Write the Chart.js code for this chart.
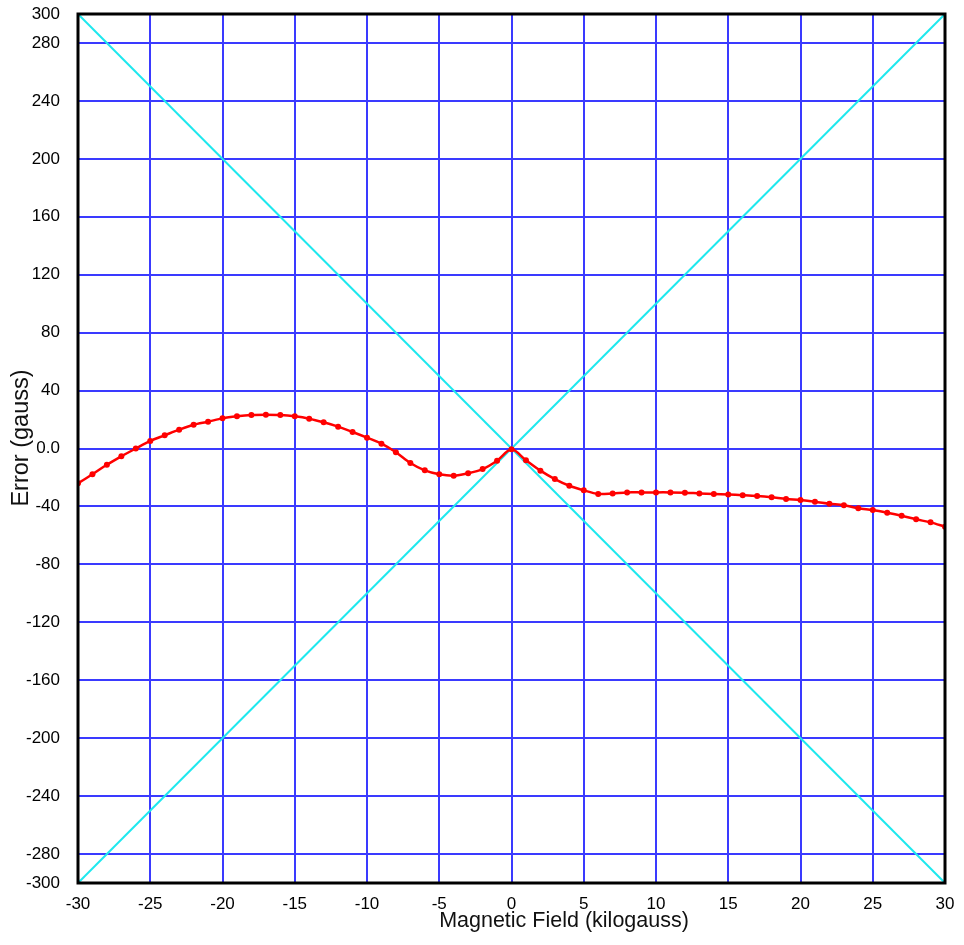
<!DOCTYPE html>
<html>
<head>
<meta charset="utf-8">
<script src="https://cdn.jsdelivr.net/npm/chart.js@4/dist/chart.umd.min.js"></script>
<style>
  html, body { margin: 0; padding: 0; background: #fff; }
  #wrap { width: 964px; height: 945px; position: relative; }
</style>
</head>
<body>
<div id="wrap"><canvas id="errChart" width="964" height="945"></canvas></div>
<script>
const fieldKG = [-30,-29,-28,-27,-26,-25,-24,-23,-22,-21,-20,-19,-18,-17,-16,-15,-14,-13,-12,-11,-10,
  -9,-8,-7,-6,-5,-4,-3,-2,-1,0,1,2,3,4,5,6,7,8,9,10,
  11,12,13,14,15,16,17,18,19,20,21,22,23,24,25,26,27,28,29,30];
const errorGauss = [-24,-17.8,-11.2,-5.4,0,5.2,9.1,13,16.4,18.5,20.8,22.2,23.1,23.3,23.1,22.2,20.6,18.1,15.1,11.4,7.5,
  3.3,-2.6,-10,-15.1,-17.8,-18.8,-17.1,-14.2,-8.4,-0.6,-8.1,-15.3,-21.1,-25.7,-28.9,-31.4,-31,-30.3,-30.3,-30.3,
  -30.3,-30.5,-31,-31.4,-31.7,-32.2,-32.8,-33.7,-34.9,-35.6,-36.7,-38.1,-39.2,-41.3,-42.5,-44.3,-46.4,-48.9,-51,-54];

// reference diagonals (error = +/-10 x field)
const diagUpX = [-30, 30];
const diagUpY = [-300, 300];
const diagDownX = [-30, 30];
const diagDownY = [300, -300];

const xTicks = [-30,-25,-20,-15,-10,-5,0,5,10,15,20,25,30];
const yTicks = [-300,-280,-240,-200,-160,-120,-80,-40,0,40,80,120,160,200,240,280,300];

const xTitle = 'Magnetic Field (kilogauss)';
const yTitle = 'Error (gauss)';

const toPts = (xs, ys) => xs.map((x, i) => ({ x: x, y: ys[i] }));

const fontFam = 'Liberation Sans, Arial, sans-serif';

// black frame round the plot and the two axis titles
const frameBox = {
  id: 'frameBox',
  afterDraw(chart){
    const a = chart.chartArea, c = chart.ctx;
    c.save();
    c.strokeStyle = '#000';
    c.lineWidth = 3;
    c.strokeRect(a.left, a.top, a.right - a.left, a.bottom - a.top);
    c.fillStyle = '#111';
    c.textAlign = 'center';
    c.textBaseline = 'middle';
    c.font = '21.5px ' + fontFam;
    c.fillText(xTitle, 564, 921);
    c.font = '23.5px ' + fontFam;
    c.translate(22, 438);
    c.rotate(-Math.PI / 2);
    c.fillText(yTitle, 0, 0);
    c.restore();
  }
};

// fixed box sizes, no extra label padding from the layout
const fixBox = (w, h) => s => {
  if (w) s.width = w;
  if (h) s.height = h;
  s.paddingTop = 0; s.paddingBottom = 0; s.paddingLeft = 0; s.paddingRight = 0;
};

const tickFont = { family: fontFam, size: 17 };

new Chart(document.getElementById('errChart').getContext('2d'), {
  type: 'line',
  data: {
    datasets: [{
      data: toPts(fieldKG, errorGauss),
      borderColor: '#ff0000',
      backgroundColor: '#ff0000',
      borderWidth: 2.5,
      pointRadius: 3,
      pointBorderWidth: 0,
      tension: 0.3
    }, {
      data: toPts(diagUpX, diagUpY),
      borderColor: '#1ee8ee',
      borderWidth: 2,
      pointRadius: 0
    }, {
      data: toPts(diagDownX, diagDownY),
      borderColor: '#1ee8ee',
      borderWidth: 2,
      pointRadius: 0
    }]
  },
  options: {
    responsive: false,
    animation: false,
    layout: { padding: { top: 14, right: 19, left: 0, bottom: 0 } },
    plugins: { legend: { display: false }, tooltip: { enabled: false } },
    scales: {
      x: {
        type: 'linear', min: -30, max: 30,
        afterBuildTicks: s => { s.ticks = xTicks.map(v => ({ value: v })); },
        afterFit: fixBox(0, 62),
        grid: { color: '#3a3aff', lineWidth: 2, drawTicks: false },
        border: { display: false },
        ticks: { color: '#000', font: tickFont, padding: 11, maxRotation: 0,
          callback: v => String(v) }
      },
      y: {
        type: 'linear', min: -300, max: 300,
        afterBuildTicks: s => { s.ticks = yTicks.map(v => ({ value: v })); },
        afterFit: fixBox(78, 0),
        grid: { color: '#3a3aff', lineWidth: 2, drawTicks: false },
        border: { display: false },
        ticks: { color: '#000', font: tickFont, padding: 18, autoSkip: false,
          callback: v => v === 0 ? '0.0' : String(v) }
      }
    }
  },
  plugins: [frameBox]
});
</script>
</body>
</html>
